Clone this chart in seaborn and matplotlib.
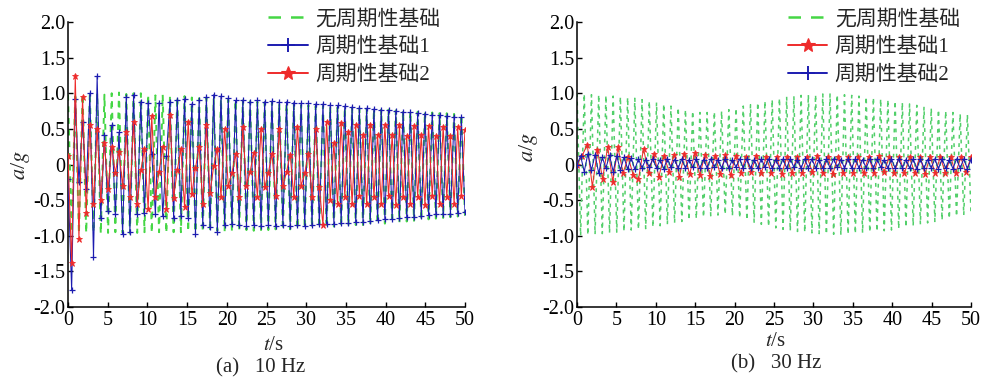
import numpy as np
import pandas as pd
import matplotlib
matplotlib.use("Agg")
import matplotlib.pyplot as plt
from matplotlib.lines import Line2D
import seaborn as sns

# ---------------- data ----------------
# (a) 10 Hz excitation
a_none_upper = [0.98, 1.0, 0.99, 1.01, 1.0, 0.98, 1.0, 1.01, 0.99, 1.0, 1.0,
                0.98, 0.97, 0.98, 0.96, 0.95, 0.96, 0.94, 0.93, 0.94, 0.92, 0.92,
                0.91, 0.9, 0.9, 0.89, 0.88, 0.87, 0.87, 0.86, 0.85, 0.84, 0.83,
                0.83, 0.82, 0.82, 0.81, 0.8, 0.8, 0.79, 0.79, 0.78, 0.78, 0.77,
                0.77, 0.76, 0.76, 0.75, 0.74, 0.74, 0.73, 0.72, 0.72, 0.71, 0.70]
a_none_lower = [-0.95, -0.97, -0.96, -0.95, -0.97, -0.96, -0.95, -0.96, -0.97, -0.96, -0.95,
                -0.96, -0.95, -0.96, -0.95, -0.95, -0.94, -0.95, -0.94, -0.94, -0.93, -0.94,
                -0.93, -0.93, -0.92, -0.93, -0.92, -0.92, -0.91, -0.92, -0.91, -0.9, -0.9,
                -0.89, -0.89, -0.88, -0.87, -0.87, -0.86, -0.85, -0.85, -0.84, -0.83, -0.83,
                -0.82, -0.81, -0.8, -0.79, -0.78, -0.77, -0.76, -0.75, -0.74, -0.73, -0.72]

a_found1 = [-0.2, -1.76, 0.92, -0.25, 0.6, -0.35, 1.0, -1.3, 1.24, -0.75,
            0.42, -0.65, 0.55, -0.7, 0.45, -0.98, 0.95, -0.95, 0.98, -0.7,
            0.88, -0.68, 0.86, 0.15, -0.7, 0.87, -0.72, 0.12, 0.88, -0.75,
            0.9, -0.72, 0.92, -0.75, 0.85, -0.97, 0.9, -0.85, 0.95, -0.88,
            0.98, -0.95, 0.96, -0.85, 0.93, -0.84, 0.9, -0.85, 0.9, -0.86,
            0.88, -0.85, 0.9, -0.86, 0.88, -0.85, 0.89, -0.86, 0.88, -0.85,
            0.88, -0.86, 0.87, -0.85, 0.86, -0.86, 0.86, -0.85, 0.85, -0.84,
            0.85, -0.84, 0.84, -0.83, 0.83, -0.82, 0.82, -0.82, 0.81, -0.81,
            0.8, -0.8, 0.79, -0.79, 0.78, -0.78, 0.77, -0.77, 0.76, -0.76,
            0.75, -0.75, 0.74, -0.74, 0.73, -0.73, 0.72, -0.72, 0.71, -0.71,
            0.7, -0.7, 0.69, -0.7, 0.68, -0.69, 0.67, -0.68, 0.66, -0.67]

a_found2 = [0.12, -1.38, 1.24, -1.05, 0.95, -0.68, 0.55, -0.55, 0.5, -0.5,
            0.3, -0.35, 0.25, -0.12, 0.18, -0.3, 0.45, -0.45, 0.6, -0.55,
            -0.08, 0.22, -0.62, 0.68, -0.45, -0.1, 0.25, -0.63, 0.69, -0.47,
            -0.08, 0.22, -0.6, 0.6, -0.42, -0.05, 0.25, -0.55, 0.55, -0.4,
            -0.02, 0.22, -0.45, 0.5, -0.3, -0.12, 0.15, -0.46, 0.52, -0.3,
            -0.1, 0.16, -0.45, 0.5, -0.32, -0.12, 0.15, -0.44, 0.5, -0.3,
            -0.1, 0.14, -0.45, 0.52, -0.3, -0.12, 0.15, -0.45, 0.5, -0.32,
            -0.85, 0.6, -0.5, 0.3, -0.55, 0.58, -0.45, 0.45, -0.55, 0.56,
            -0.44, 0.42, -0.56, 0.55, -0.45, 0.42, -0.56, 0.55, -0.44, 0.41,
            -0.57, 0.55, -0.45, 0.4, -0.56, 0.54, -0.45, 0.41, -0.57, 0.54,
            -0.44, 0.4, -0.56, 0.53, -0.45, 0.4, -0.55, 0.52, -0.44, 0.48]

# (b) 30 Hz excitation
b_none_upper = [1.0, 0.99, 0.98, 0.98, 0.97, 0.96, 0.95, 0.94, 0.93, 0.91, 0.89,
                0.87, 0.85, 0.82, 0.8, 0.77, 0.75, 0.73, 0.73, 0.74, 0.75, 0.77,
                0.79, 0.82, 0.84, 0.87, 0.89, 0.91, 0.93, 0.95, 0.96, 0.97, 0.98,
                0.98, 0.99, 0.99, 0.98, 0.98, 0.97, 0.96, 0.95, 0.94, 0.92, 0.91,
                0.89, 0.87, 0.85, 0.83, 0.81, 0.79, 0.77, 0.75, 0.73, 0.71, 0.7]
b_none_lower = [-1.0, -0.99, -0.98, -0.97, -0.96, -0.95, -0.94, -0.92, -0.91, -0.9, -0.88,
                -0.86, -0.84, -0.82, -0.8, -0.78, -0.76, -0.74, -0.72, -0.71, -0.7, -0.72,
                -0.75, -0.78, -0.81, -0.84, -0.87, -0.89, -0.91, -0.93, -0.94, -0.95, -0.96,
                -0.97, -0.98, -0.98, -0.99, -0.98, -0.97, -0.96, -0.95, -0.94, -0.93, -0.92,
                -0.9, -0.88, -0.86, -0.84, -0.82, -0.8, -0.78, -0.76, -0.73, -0.71, -0.68]

b_found1 = [0.0, 0.12, 0.28, -0.31, 0.2, -0.2, 0.25, -0.24, 0.24, -0.12,
            0.1, -0.15, -0.21, 0.22, -0.12, 0.15, -0.17, 0.12, -0.1, 0.14,
            -0.17, 0.15, -0.14, 0.16, -0.15, 0.14, -0.16, 0.12, -0.14, 0.13,
            -0.15, 0.12,
            -0.12, 0.1, -0.11, 0.12, -0.12, 0.1, -0.12, 0.11, -0.13, 0.1,
            -0.12, 0.11, -0.12, 0.1, -0.11, 0.12, -0.12, 0.11, -0.13, 0.1,
            -0.12, 0.11, -0.12, 0.1, -0.12, 0.11, -0.12, 0.12, -0.11, 0.1,
            -0.12, 0.11, -0.12, 0.1, -0.12, 0.11, -0.13, 0.11, -0.12, 0.1,
            -0.12, 0.11, -0.12, 0.1, -0.11, 0.1]

b_found2 = [0.0, 0.12, -0.1, 0.15, -0.08, 0.14, -0.12, 0.1, -0.05, 0.13,
            -0.1, 0.12, -0.08, 0.1, -0.06, 0.09, -0.07, 0.08,
            -0.05, 0.07, -0.04, 0.08, -0.05, 0.07, -0.06, 0.08, -0.04, 0.07,
            -0.05, 0.08, -0.05, 0.07, -0.04, 0.08, -0.05, 0.07, -0.05, 0.08,
            -0.04, 0.07, -0.05, 0.08, -0.05, 0.07, -0.04, 0.08, -0.05, 0.08,
            -0.05, 0.07, -0.05, 0.08, -0.04, 0.08, -0.05, 0.07, -0.05, 0.08,
            -0.05, 0.08, -0.04, 0.07, -0.05, 0.08, -0.05, 0.08, -0.05, 0.07,
            -0.05, 0.08, -0.05, 0.08, -0.04, 0.07, -0.05, 0.08, -0.05, 0.08,
            -0.05, 0.07, -0.05, 0.08, -0.05, 0.08, -0.04, 0.07, -0.05, 0.08,
            -0.05, 0.08, -0.05, 0.07, -0.05, 0.08, -0.06, 0.08, -0.05, 0.07,
            -0.05, 0.08, -0.06, 0.08, -0.05, 0.07, -0.06, 0.08, -0.05, 0.08,
            -0.06, 0.07]

labels_none = "无周期性基础"
labels_f1 = "周期性基础1"
labels_f2 = "周期性基础2"
yticks = [-2.0, -1.5, -1.0, -0.5, 0.0, 0.5, 1.0, 1.5, 2.0]
ytick_labels = ["-2.0", "-1.5", "-1.0", "-0.5", "0", "0.5", "1.0", "1.5", "2.0"]
xticks = list(range(0, 51, 5))
T_END = 50.0


def interleave(upper, lower):
    return list(np.ravel(np.column_stack([upper, lower])))


def frame(values):
    return pd.DataFrame({"t": np.linspace(0.0, T_END, len(values)), "a": values})


# ---------------- style ----------------
sns.set_theme(style="ticks")
plt.rcParams["font.family"] = ["Liberation Serif", "Noto Sans CJK SC"]
plt.rcParams["mathtext.fontset"] = "stix"
plt.rcParams["axes.unicode_minus"] = False

GREEN = "#45d645"
GREEN_B = "#52cf6a"
BLUE = "#1c1cb0"
RED = "#ee2b2b"

fig = plt.figure(figsize=(9.81, 3.79), dpi=100)
ax_a = fig.add_axes([68 / 981, 1 - 307 / 379, 397 / 981, 285 / 379])
ax_b = fig.add_axes([577 / 981, 1 - 307 / 379, 394 / 981, 285 / 379])

green_a_kw = dict(color=GREEN, lw=1.4, linestyle=(0, (3, 3)))
green_b_kw = dict(color=GREEN_B, lw=1.1, linestyle=(0, (2.5, 3)))
blue_kw = dict(color=BLUE, lw=0.75, marker="+", markersize=4.5,
               markeredgewidth=0.9, markeredgecolor=BLUE)
red_kw = dict(color=RED, lw=0.75, marker="*", markersize=5,
              markeredgewidth=0.6, markeredgecolor=RED, markerfacecolor=RED)

# legend keys
key_green = Line2D([], [], color=GREEN, lw=1.8, linestyle=(0, (5, 4)))
key_blue = Line2D([], [], color=BLUE, lw=1.4, marker="+", markersize=10,
                  markeredgewidth=1.4, markeredgecolor=BLUE)
key_red = Line2D([], [], color=RED, lw=1.4, marker="*", markersize=10,
                 markeredgewidth=0.8, markeredgecolor=RED, markerfacecolor=RED)


def draw(ax, data, kw, z):
    df = frame(data)
    sns.lineplot(data=df, x="t", y="a", ax=ax, estimator=None, sort=False,
                 legend=False, zorder=z, **kw)


draw(ax_a, interleave(a_none_upper, a_none_lower), green_a_kw, 2)
draw(ax_a, a_found1, blue_kw, 3)
draw(ax_a, a_found2, red_kw, 4)

draw(ax_b, interleave(b_none_upper, b_none_lower), green_b_kw, 2)
draw(ax_b, b_found1, red_kw, 3)
draw(ax_b, b_found2, blue_kw, 4)

legend_sets = {
    ax_a: ([key_green, key_blue, key_red], [labels_none, labels_f1, labels_f2], 0.505),
    ax_b: ([key_green, key_red, key_blue], [labels_none, labels_f1, labels_f2], 0.535),
}

for ax in (ax_a, ax_b):
    ax.set_xlim(0, 50)
    ax.set_ylim(-2.0, 2.0)
    ax.set_xticks(xticks)
    ax.set_xticklabels([str(v) for v in xticks])
    ax.set_yticks(yticks)
    ax.set_yticklabels(ytick_labels)
    ax.set_xlabel("")
    ax.set_ylabel("")
    for s in ("top", "right"):
        ax.spines[s].set_visible(False)
    for s in ("left", "bottom"):
        ax.spines[s].set_color("black")
        ax.spines[s].set_linewidth(1.1)
    ax.tick_params(axis="both", direction="in", length=3.5, width=1.0,
                   colors="black", labelsize=14.5)
    ax.tick_params(axis="y", pad=2)
    ax.tick_params(axis="x", pad=3)
    ax.set_facecolor("white")
    handles, labs, x0 = legend_sets[ax]
    ax.legend(handles, labs, loc="upper left", bbox_to_anchor=(x0, 1.045),
              frameon=False, fontsize=15, handlelength=1.9, handletextpad=0.35,
              labelspacing=0.4, borderaxespad=0.0, borderpad=0.0)

# axis titles and captions
fig.text(20 / 981, 1 - 165 / 379, r"$a$/$g$", rotation=90, ha="center", va="center", fontsize=16)
fig.text(528 / 981, 1 - 147 / 379, r"$a$/$g$", rotation=90, ha="center", va="center", fontsize=16)
fig.text(273 / 981, 1 - 345 / 379, r"$t$/s", ha="center", va="center", fontsize=15)
fig.text(775 / 981, 1 - 341 / 379, r"$t$/s", ha="center", va="center", fontsize=15)
fig.text(261 / 981, 1 - 368 / 379, "(a)   10 Hz", ha="center", va="center", fontsize=15)
fig.text(776 / 981, 1 - 364 / 379, "(b)   30 Hz", ha="center", va="center", fontsize=15)

fig.savefig("out.png", dpi=100, facecolor="white")
